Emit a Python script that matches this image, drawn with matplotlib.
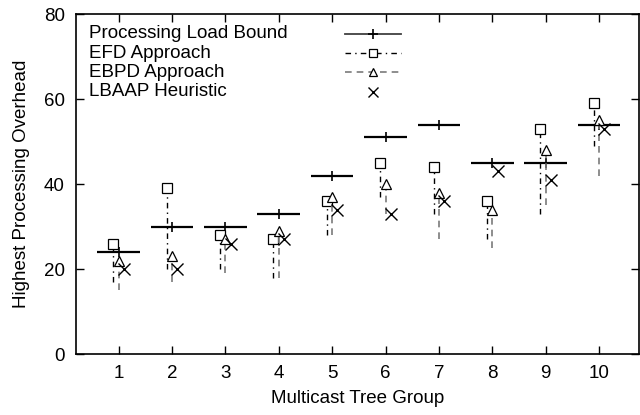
import numpy as np
import matplotlib as mpl
import matplotlib.pyplot as plt

# MPL settings.
mpl.rcParams['font.family'] = ['Liberation Sans', 'DejaVu Sans']
mpl.rcParams['font.size'] = 13.5

# Data
groups = [1, 2, 3, 4, 5, 6, 7, 8, 9, 10]
bound = [24, 30, 30, 33, 42, 51, 54, 45, 45, 54]
efd = [26, 39, 28, 27, 36, 45, 44, 36, 53, 59]
efd_low = [17, 20, 20, 18, 28, 37, 33, 27, 33, 49]
ebpd = [22, 23, 27, 29, 37, 40, 38, 34, 48, 55]
ebpd_low = [15, 17, 19, 18, 28, 33, 27, 25, 35, 42]
lbaap = [20, 20, 26, 27, 34, 33, 36, 43, 41, 53]
y_ticks = [0, 20, 40, 60, 80]

labels = ["Processing Load Bound", "EFD Approach", "EBPD Approach", "LBAAP Heuristic"]

x = np.array(groups, dtype=float)
dashdot = (0, (4, 3, 1, 3))
dashed = (0, (4, 3))
gray = "#7a7a7a"

fig = plt.figure(figsize=(6.4, 4.15), dpi=100)
ax = fig.add_axes([76 / 640, 1 - 354 / 415, (639 - 76) / 640, (354 - 14.3) / 415])

# Processing load bound: horizontal segment with + at centre
ax.hlines(bound, x - 0.4, x + 0.4, colors="black", lw=1.6)
ax.plot(x, bound, "+", color="black", ms=7, mew=1.2, ls="none")

# EFD: squares with dash-dot range lines
ax.vlines(x - 0.1, efd_low, efd, colors="black", linestyles=[dashdot], lw=1.0)
ax.plot(x - 0.1, efd, "s", mfc="white", mec="black", ms=7, mew=0.9, ls="none")

# EBPD: triangles with dashed range lines
ax.vlines(x, ebpd_low, ebpd, colors=gray, linestyles=[dashed], lw=1.2)
ax.plot(x, ebpd, "^", mfc="white", mec="black", ms=7, mew=0.9, ls="none")

# LBAAP: crosses
ax.plot(x + 0.1, lbaap, "x", color="black", ms=8, mew=1.0, ls="none")

# Manual legend (gnuplot style: text left, sample right)
rows = [0.943, 0.885, 0.829, 0.772]
styles = [
  dict(color="#404040", ls="-", lw=1.3, marker="+", ms=7, mew=1.2, mec="black"),
  dict(color="black", ls=dashdot, lw=1.0, marker="s", ms=6, mfc="white", mec="black", mew=0.9),
  dict(color=gray, ls=dashed, lw=1.2, marker="^", ms=6, mfc="white", mec="black", mew=0.9),
  dict(color="black", ls="none", marker="x", ms=7, mew=1.0),
]
marker_keys = ("marker", "ms", "mfc", "mec", "mew")
for label, yy, st in zip(labels, rows, styles):
  ax.text(0.023, yy, label, transform=ax.transAxes, va="center", ha="left")
  line_st = {k: v for k, v in st.items() if k not in marker_keys}
  ax.plot([0.478, 0.577], [yy, yy], transform=ax.transAxes, **line_st)
  mk = {k: v for k, v in st.items() if k in marker_keys + ("color",)}
  ax.plot([0.5275], [yy], transform=ax.transAxes, ls="none", **mk)

ax.set_xlim(0.2, 10.75)
ax.set_ylim(0, 80)
ax.set_xticks(groups)
ax.set_yticks(y_ticks)
ax.tick_params(direction="in", length=6, width=1.0, top=True, right=True, pad=8)
for s in ax.spines.values():
  s.set_linewidth(1.2)

ax.set_xlabel("Multicast Tree Group", labelpad=6)
ax.set_ylabel("Highest Processing Overhead", labelpad=10)

fig.savefig("out.png", dpi=100)
